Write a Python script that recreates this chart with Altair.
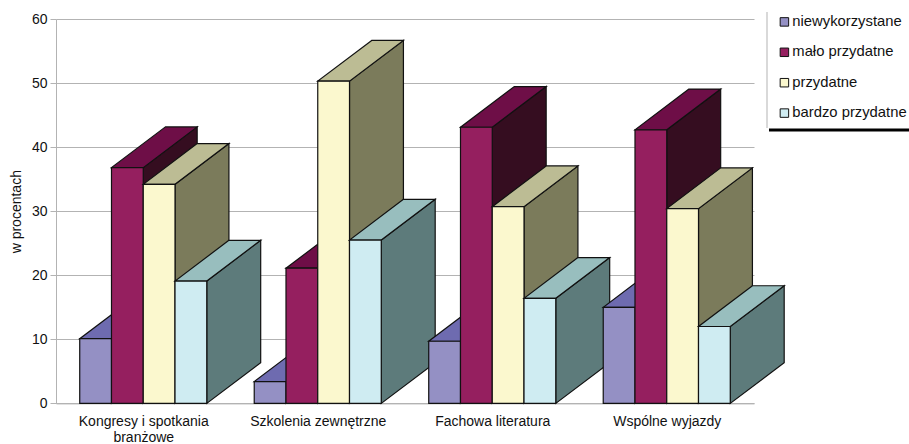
import json

import altair as alt
import pandas as pd

CATEGORIES = ["Kongresy i spotkania\nbranżowe", "Szkolenia zewnętrzne", "Fachowa literatura", "Wspólne wyjazdy"]
SERIES = ["niewykorzystane", "mało przydatne", "przydatne", "bardzo przydatne"]
VALUES = {
    "niewykorzystane": [10.1, 3.4, 9.7, 15.0],
    "mało przydatne": [36.8, 21.1, 43.1, 42.7],
    "przydatne": [34.2, 50.3, 30.7, 30.4],
    "bardzo przydatne": [19.1, 25.5, 16.4, 12.0],
}
FRONT = ["#9490c4", "#951f5f", "#fbf8ce", "#cfecf2"]
TOP = ["#6e6bb0", "#6e0e47", "#bcbc94", "#98bebe"]
SIDE = ["#4a4878", "#350d20", "#7b7b5b", "#5d7b7b"]

FONT = "Liberation Sans"
BAR_WIDTH = 0.182   # one bar, in category units
DEPTH_X = 0.309     # receding offset of the 3D box, in category units
DEPTH_Y = 6.36      # receding offset of the 3D box, in percent
OUTLINE = {"stroke": "#111111", "strokeWidth": 1.2}

x_scale = alt.Scale(domain=[0, 4], nice=False, zero=False)
y_scale = alt.Scale(domain=[0, 60], nice=False)
color_scale = alt.Scale(domain=SERIES, range=FRONT)

category_lines = json.dumps([c.split("\n") for c in CATEGORIES], ensure_ascii=False)
x_axis = alt.Axis(
    values=[0.5, 1.5, 2.5, 3.5], title=None, ticks=False, grid=False, labelAngle=0,
    labelExpr=f"{category_lines}[floor(datum.value)]", labelFont=FONT, labelFontSize=14,
    labelColor="#111111", labelPadding=11, labelLineHeight=16, domainColor="#b3b3b3",
    domainWidth=1, labelOverlap=False,
)
y_axis = alt.Axis(
    values=list(range(0, 61, 10)), title="w  procentach", grid=True, gridColor="#b3b3b3",
    gridWidth=1, domainColor="#b3b3b3", tickColor="#b3b3b3", tickSize=6, labelFont=FONT,
    labelFontSize=14, labelColor="#111111", labelPadding=3, titleFont=FONT, titleFontSize=14,
    titleFontWeight="normal", titleColor="#111111", titlePadding=8,
)
legend = alt.Legend(
    orient="none", legendX=721, legendY=-4.5, title=None, symbolType="square", symbolSize=72,
    symbolStrokeColor="#111111", symbolStrokeWidth=1, labelFont=FONT, labelFontSize=14.8,
    labelColor="#111111", rowPadding=14.4, padding=0, labelOffset=0.5,
)

X = alt.X("x:Q", scale=x_scale, axis=x_axis)

layers = []
for c in range(len(CATEGORIES)):
    for s, name in enumerate(SERIES):
        value = VALUES[name][c]
        x0 = c + 0.5 + (s - 2) * BAR_WIDTH
        x1 = x0 + BAR_WIDTH

        # receding right-hand face
        side = pd.DataFrame({
            "x": [x1, x1 + DEPTH_X],
            "y": [value, value + DEPTH_Y],
            "y2": [0, DEPTH_Y],
        })
        layers.append(
            alt.Chart(side).mark_area(fill=SIDE[s], **OUTLINE).encode(
                x=X,
                y=alt.Y("y:Q", scale=y_scale, axis=y_axis),
                y2="y2:Q",
            )
        )

        # receding top face
        top = pd.DataFrame({
            "y": [value, value + DEPTH_Y],
            "x": [x0, x0 + DEPTH_X],
            "x2": [x1, x1 + DEPTH_X],
        })
        layers.append(
            alt.Chart(top).mark_area(orient="horizontal", fill=TOP[s], **OUTLINE).encode(
                y=alt.Y("y:Q", scale=y_scale, axis=y_axis),
                x=X,
                x2="x2:Q",
            )
        )

        # front face, carrying the legend colour
        front = pd.DataFrame({"x": [x0], "x2": [x1], "y": [value], "base": [0], "series": [name]})
        layers.append(
            alt.Chart(front).mark_rect(**OUTLINE).encode(
                x=X,
                x2="x2:Q",
                y=alt.Y("y:Q", scale=y_scale, axis=y_axis),
                y2="base:Q",
                color=alt.Color("series:N", scale=color_scale, legend=legend),
            )
        )

# legend frame: grey left edge and heavy lower edge running off the page
frame_left = alt.Chart(pd.DataFrame({"a": [0]})).mark_rule(color="#b3b3b3", strokeWidth=1).encode(
    x=alt.value(711), y=alt.value(-7), y2=alt.value(109)
)
frame_bottom = alt.Chart(pd.DataFrame({"a": [0]})).mark_rule(color="#000000", strokeWidth=3).encode(
    x=alt.value(713), x2=alt.value(860), y=alt.value(111)
)

chart = alt.layer(*layers, frame_left, frame_bottom).properties(
    width=698,
    height=384.4,
    padding={"left": 56, "top": 19, "right": 155, "bottom": 40.6},
    autosize=alt.AutoSizeParams(type="none"),
    background="white",
).configure_view(stroke=None)

chart.save("out.html", embed_options={"renderer": "svg", "actions": False})
